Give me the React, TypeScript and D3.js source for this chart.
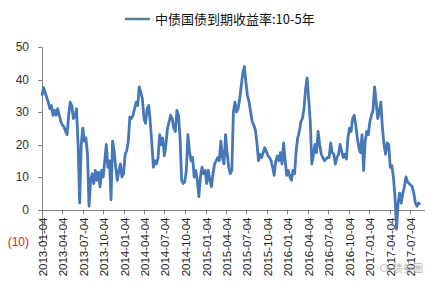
import React from "react";
import * as d3 from "d3";

const seriesName = "中债国债到期收益率:10-5年";
const startDate = "2013-01-04";
// weekly values (bp), from 2013-01-04
const values: number[] = [
  35, 37.5, 36, 34.5, 33, 31, 32, 29, 30.5, 29, 31, 29, 27, 26, 25.5, 24, 23, 29, 33, 32,
  28, 28.5, 31, 20, 2, 20, 25, 21, 22, 17, 1, 9, 11, 8, 12, 9, 11.5, 7, 12, 10,
  15, 20, 13, 15, 3, 21, 18, 13, 9, 12, 14, 10, 11, 17, 18, 21, 28.5, 28, 29, 31,
  33, 32, 37.7, 36, 34, 28, 26.5, 31, 32, 27, 20.5, 13, 15, 14, 16, 23, 20, 22, 16.5, 20,
  25, 27, 29, 28, 25, 24, 30.5, 29, 22, 9, 8, 8.5, 12, 23, 18, 15, 16, 10, 12, 9,
  4, 10, 13, 11, 12, 8, 12, 9, 7, 11, 14, 15, 16, 15, 21, 16, 14, 23, 17.5, 13,
  11, 12, 30, 33, 30, 31, 34, 38, 42, 44, 39, 35, 33, 30, 27, 26, 24.5, 20.5, 15, 17,
  16, 17.5, 19, 18, 16.5, 16, 15, 13, 10.5, 15, 16.5, 15, 17.5, 14, 20.5, 15, 10.5, 12, 10, 9,
  12, 11, 18, 22, 24, 27, 28, 31, 37, 40.5, 34, 27, 14, 17, 20, 17.5, 24, 20, 17, 16,
  15, 15.5, 16, 16, 20.5, 17.5, 17, 14, 16, 17, 20, 18, 16, 17, 15.5, 22, 25, 24, 28, 29,
  26, 22, 19, 17.5, 23, 12, 21, 24, 23, 27, 29, 30.5, 37.7, 33, 28, 30, 33, 25, 20, 17,
  20.5, 20, 13, 13.5, 10, 4, -6, 2, 5, 2, 5, 7, 10, 8.5, 8, 7.5, 7, 5, 2, 1,
  2, 1.5,
];
const tickDates = [
  "2013-01-04", "2013-04-04", "2013-07-04", "2013-10-04",
  "2014-01-04", "2014-04-04", "2014-07-04", "2014-10-04",
  "2015-01-04", "2015-04-04", "2015-07-04", "2015-10-04",
  "2016-01-04", "2016-04-04", "2016-07-04", "2016-10-04",
  "2017-01-04", "2017-04-04", "2017-07-04",
];
const yTicks = [50, 40, 30, 20, 10, 0, -10];

const W = 437;
const H = 288;

export default function App() {
  const parse = d3.utcParse("%Y-%m-%d");
  const start = parse(startDate) as Date;
  const data = values.map((v, i) => ({ date: d3.utcDay.offset(start, i * 7), v }));
  const x = d3
    .scaleUtc()
    .domain([parse(tickDates[0]) as Date, parse(tickDates[tickDates.length - 1]) as Date])
    .range([42, 410]);
  const y = d3.scaleLinear().domain([-10, 50]).range([242, 47]);
  const line = d3
    .line<{ date: Date; v: number }>()
    .x((d) => x(d.date))
    .y((d) => y(d.v));
  const axisColor = "#868686";
  const font = "'Liberation Sans', Arial, sans-serif";
  return (
    <svg
      width={W}
      height={H}
      style={{ position: "absolute", left: 0, top: 0, background: "#fff" }}
      fontFamily={font}
    >
      {/* legend */}
      <line x1={125} x2={150} y1={19} y2={19} stroke="#567d96" strokeWidth={2.5} />
      <text x={155} y={24} fontSize={13} fill="#111" fontFamily="'Noto Sans CJK SC', sans-serif">
        {seriesName}
      </text>
      {/* y axis */}
      <line x1={42.5} x2={42.5} y1={y(50)} y2={y(-10)} stroke={axisColor} strokeWidth={1} />
      {yTicks.map((t) => (
        <g key={t}>
          <line x1={38} x2={42.5} y1={Math.round(y(t)) + 0.5} y2={Math.round(y(t)) + 0.5} stroke={axisColor} />
          <text
            x={29}
            y={y(t)}
            dy="0.35em"
            textAnchor="end"
            fontSize={12}
            fill={t < 0 ? "#d42a20" : "#333"}
          >
            {t < 0 ? `(${Math.abs(t)})` : t}
          </text>
        </g>
      ))}
      {/* x axis at 0 */}
      <line x1={42} x2={425} y1={Math.round(y(0)) + 0.5} y2={Math.round(y(0)) + 0.5} stroke={axisColor} />
      {tickDates.map((d) => {
        const xx = Math.round(x(parse(d) as Date)) + 0.5;
        return (
          <g key={d}>
            <line x1={xx} x2={xx} y1={y(0)} y2={y(0) + 5} stroke={axisColor} />
            <text
              transform={`translate(${xx},${y(0) + 8}) rotate(-90)`}
              textAnchor="end"
              dy="0.35em"
              fontSize={11.5}
              fill="#222"
            >
              {d}
            </text>
          </g>
        );
      })}
      {/* series */}
      <path d={line(data) || ""} fill="none" stroke="#4677b8" strokeWidth={2.8} strokeLinejoin="round" />
      {/* watermark */}
      <text x={393} y={272} fontSize={10} fill="#aaa" opacity={0.85} fontFamily="'Noto Sans CJK SC', sans-serif">
        债券圈
      </text>
      <circle cx={384} cy={268} r={3.5} fill="none" stroke="#bbb" strokeWidth={1} />
    </svg>
  );
}
